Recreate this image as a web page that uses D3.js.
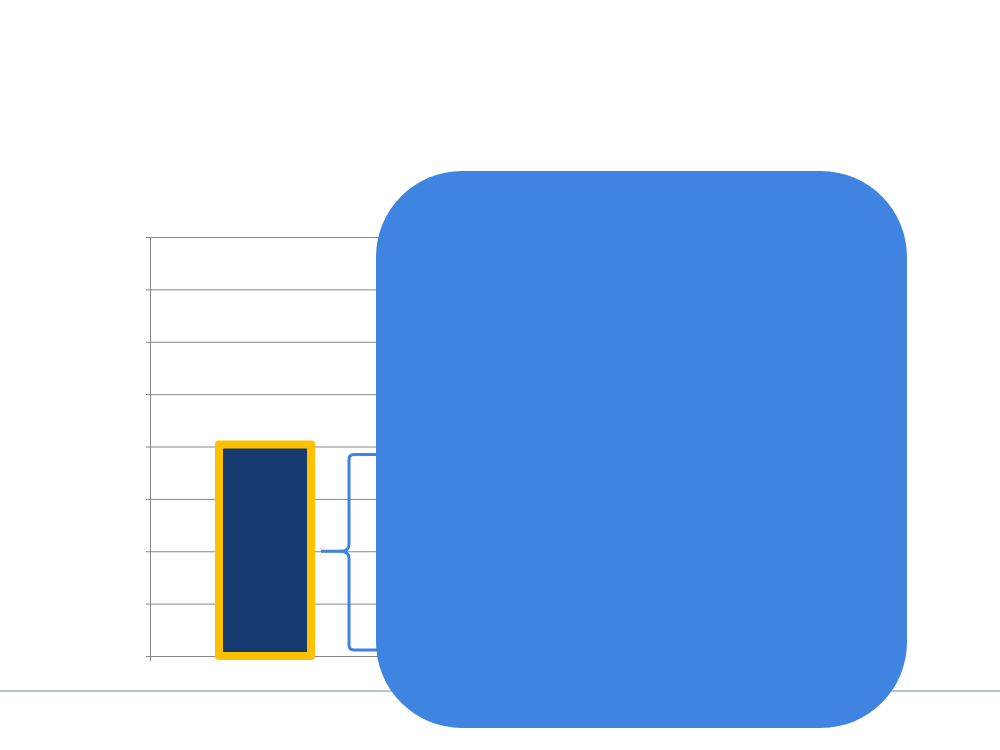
<!DOCTYPE html>
<html>
<head>
<meta charset="utf-8">
<script src="https://cdn.jsdelivr.net/npm/d3@7"></script>
<style>
  body { margin: 0; background: #fff; }
  svg { display: block; }
</style>
</head>
<body>
<div id="chart"></div>
<script>
"use strict";

// == DATA ==
var categories = ["A"];
var values = [4];
var yTicks = [0, 1, 2, 3, 4, 5, 6, 7, 8];
var braceSpan = [0, 4]; // brace covers the bar from 0 to its value

var width = 1000, height = 750;

var svg = d3.select("#chart")
            .append("svg")
            .attr("width", width)
            .attr("height", height);

// scales
var xScale = d3.scaleBand().domain(categories).range([150, 380])
               .paddingInner(0.6).paddingOuter(0.3);
var yScale = d3.scaleLinear().domain([0, 8]).range([656, 237]);

// gridlines
var grid = d3.axisLeft(yScale).tickValues(yTicks).tickSize(-750).tickFormat("");
svg.append("g")
   .attr("transform", "translate(150,0)")
   .call(grid)
   .call(function(g) { g.select(".domain").remove(); })
   .selectAll("line")
   .attr("stroke", "#868686")
   .attr("stroke-width", 1);

// small tick marks on the left
var ticks = d3.axisLeft(yScale).tickValues(yTicks).tickSize(4).tickFormat("");
svg.append("g")
   .attr("transform", "translate(150,0)")
   .call(ticks)
   .call(function(g) { g.select(".domain").remove(); })
   .selectAll("line")
   .attr("stroke", "#868686");

// axis line (runs a little past the bottom)
svg.append("line")
   .attr("x1", 150.5).attr("x2", 150.5)
   .attr("y1", yScale(8)).attr("y2", yScale(0) + 5)
   .attr("stroke", "#868686")
   .attr("stroke-width", 1);

// bars
svg.selectAll("rect.bar")
   .data(values)
   .enter()
   .append("rect")
   .attr("class", "bar")
   .attr("x", function(d, i) { return xScale(categories[i]); })
   .attr("width", xScale.bandwidth())
   .attr("y", function(d) { return yScale(d) - 2; })
   .attr("height", function(d) { return yScale(0) - yScale(d) + 2; })
   .attr("fill", "#153A70")
   .attr("stroke", "#FFC000")
   .attr("stroke-width", 8)
   .attr("stroke-linejoin", "round");

// brace next to the bar
var bx = xScale(categories[0]) + xScale.bandwidth(); // right edge of bar
var braceTop = yScale(braceSpan[1]) + 8,
    braceBot = yScale(braceSpan[0]) - 6,
    braceMid = (yScale(braceSpan[0]) + yScale(braceSpan[1])) / 2,
    tipX = bx + 10, vx = bx + 38, endX = bx + 70;

var bracePath = d3.path();
bracePath.moveTo(endX, braceTop);
bracePath.lineTo(vx + 5, braceTop);
bracePath.quadraticCurveTo(vx, braceTop, vx, braceTop + 5);
bracePath.lineTo(vx, braceMid - 7);
bracePath.quadraticCurveTo(vx, braceMid, vx - 9, braceMid);
bracePath.lineTo(tipX, braceMid);
bracePath.moveTo(tipX, braceMid);
bracePath.lineTo(vx - 9, braceMid);
bracePath.quadraticCurveTo(vx, braceMid, vx, braceMid + 7);
bracePath.lineTo(vx, braceBot - 5);
bracePath.quadraticCurveTo(vx, braceBot, vx + 5, braceBot);
bracePath.lineTo(endX, braceBot);

svg.append("path")
   .attr("d", bracePath.toString())
   .attr("fill", "none")
   .attr("stroke", "#3E84E0")
   .attr("stroke-width", 3)
   .attr("stroke-linejoin", "round");

// bottom separator line
svg.append("line")
   .attr("x1", 0).attr("x2", width)
   .attr("y1", 691).attr("y2", 691)
   .attr("stroke", "#B7C5C7")
   .attr("stroke-width", 2);

// big rounded callout box
svg.append("rect")
   .attr("x", 376)
   .attr("y", 171)
   .attr("width", 531)
   .attr("height", 557)
   .attr("rx", 86)
   .attr("ry", 86)
   .attr("fill", "#3E84E0");
</script>
</body>
</html>
